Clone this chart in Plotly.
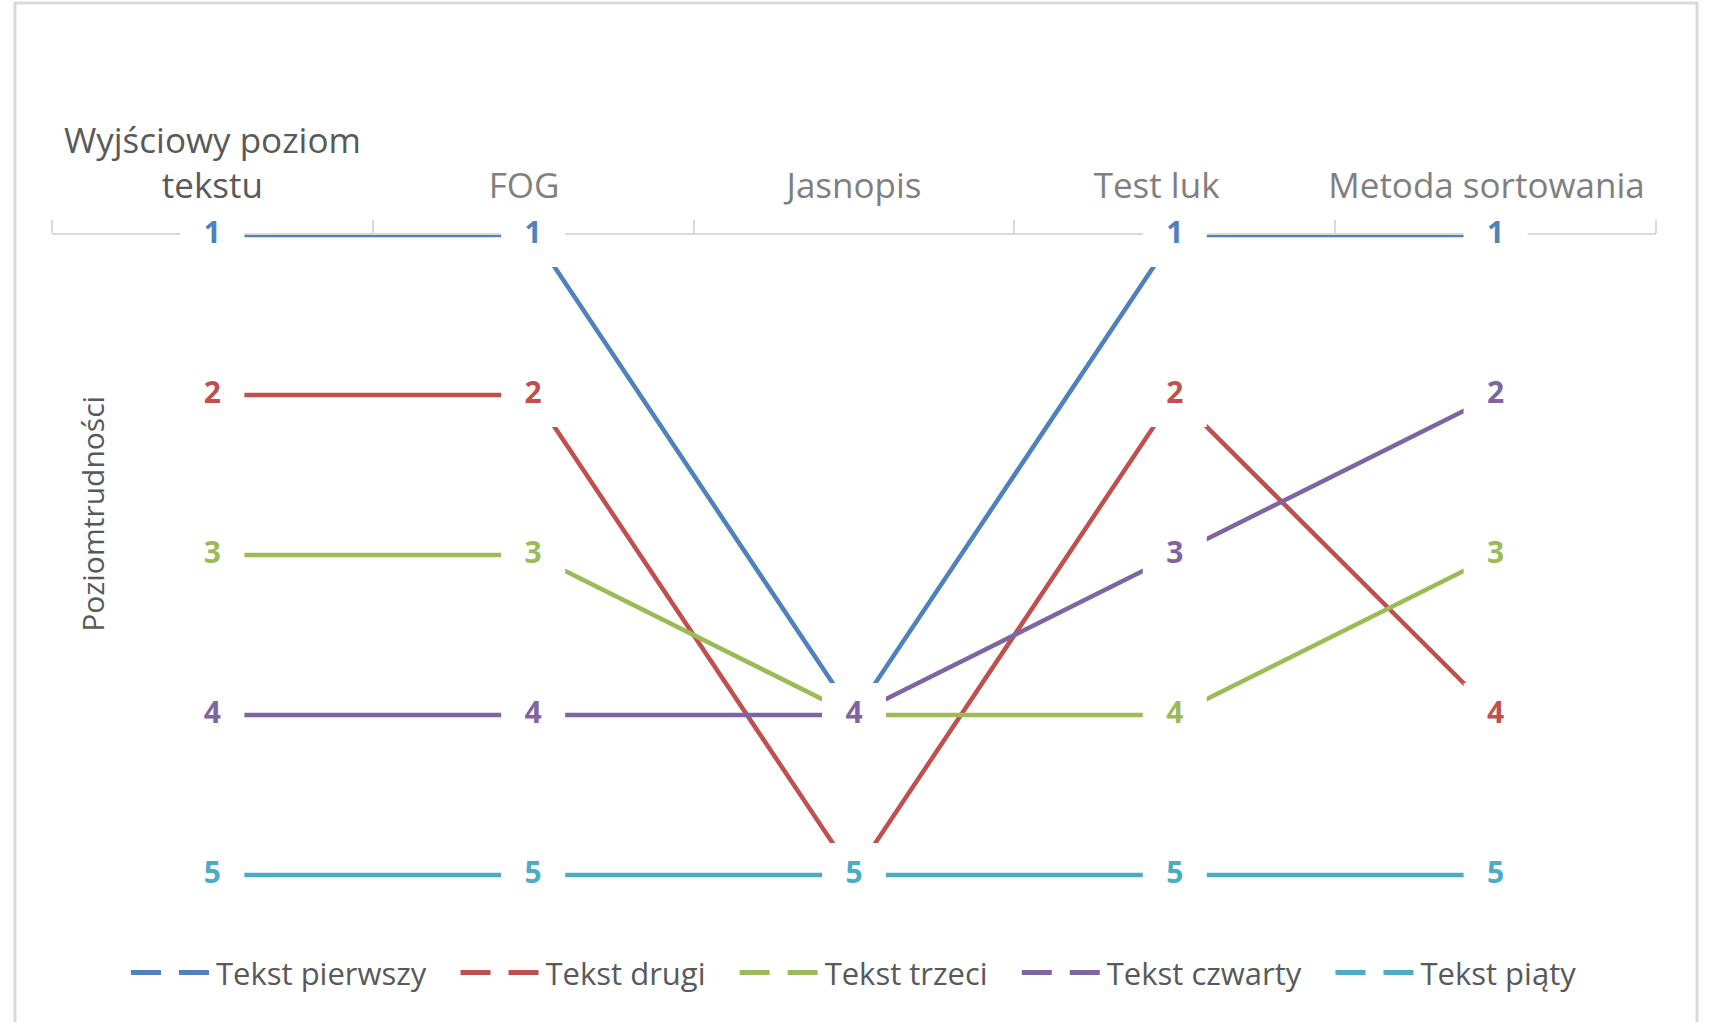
import plotly.graph_objects as go

# ---- data ----
categories = ["Wyjściowy poziom<br>tekstu", "FOG", "Jasnopis", "Test luk", "Metoda sortowania"]
category_colors = ["#595959", "#7F7F7F", "#7F7F7F", "#7F7F7F", "#7F7F7F"]
series_names = ["Tekst pierwszy", "Tekst drugi", "Tekst trzeci", "Tekst czwarty", "Tekst piąty"]
tekst_pierwszy = [1, 1, 4, 1, 1]
tekst_drugi = [2, 2, 5, 2, 4]
tekst_trzeci = [3, 3, 4, 4, 3]
tekst_czwarty = [4, 4, 4, 3, 2]
tekst_piaty = [5, 5, 5, 5, 5]
y_title = "Poziomtrudności"

series_values = [tekst_pierwszy, tekst_drugi, tekst_trzeci, tekst_czwarty, tekst_piaty]
colors = ["#4F81BD", "#C0504D", "#9BBB59", "#8064A2", "#4BACC6"]
# trailing non-breaking spaces nudge some category labels left, as in the original
label_pad = [0, 2, 0, 4, 2]

FONT = "Open Sans"
fig = go.Figure()

# lines
for name, vals, col in zip(series_names, series_values, colors):
    fig.add_trace(go.Scatter(
        x=categories, y=vals, mode="lines", name=name,
        line=dict(color=col, width=4.5), showlegend=False, hoverinfo="skip",
    ))

# data labels with white boxes
for name, vals, col in zip(series_names, series_values, colors):
    fig.add_trace(go.Scatter(
        x=categories, y=vals, mode="markers+text", name=name,
        marker=dict(symbol="square", size=64, color="white", line=dict(width=0)),
        text=[str(v) for v in vals], textposition="middle center",
        textfont=dict(family=FONT, size=30, color=col, weight="bold"),
        showlegend=False, cliponaxis=False,
    ))

# legend entries (non-breaking spaces widen the gap between entries)
pad = "\u00a0" * 3
for i, (name, col) in enumerate(zip(series_names, colors)):
    label = name + (pad if i < len(series_names) - 1 else "")
    fig.add_trace(go.Scatter(
        x=[None], y=[None], mode="lines", name=label,
        line=dict(color=col, width=5, dash="30px,18px"),
    ))

ticktext = [f'<span style="color:{c}">{t}{chr(160) * p}</span>'
            for t, c, p in zip(categories, category_colors, label_pad)]

fig.update_layout(
    width=1709, height=1022,
    margin=dict(l=52, r=53, t=235, b=107, autoexpand=False),
    paper_bgcolor="white", plot_bgcolor="white",
    font=dict(family=FONT, color="#595959"),
    xaxis=dict(
        type="category", side="top", range=[-0.5, 4.5],
        tickmode="array", tickvals=categories, ticktext=ticktext,
        tickson="boundaries", ticks="outside", ticklen=13, tickwidth=2, tickcolor="#D9D9D9",
        showline=True, linecolor="#D9D9D9", linewidth=2,
        showgrid=False, zeroline=False, layer="below traces",
        tickangle=0, automargin=False,
        ticklabelstandoff=21,
        tickfont=dict(family=FONT, size=35, color="#7F7F7F"),
    ),
    yaxis=dict(
        range=[5.25, 1], showticklabels=False, showgrid=False, zeroline=False,
        showline=False, ticks="", automargin=False,
    ),
    legend=dict(
        orientation="h", x=0.5, xanchor="center", y=-0.085, yanchor="middle",
        font=dict(family=FONT, size=31, color="#595959"), itemwidth=80,
        bgcolor="rgba(0,0,0,0)",
    ),
    annotations=[dict(
        text=y_title, textangle=-90, xref="paper", yref="paper",
        x=0.0256, y=0.59, xanchor="center", yanchor="middle", showarrow=False,
        font=dict(family=FONT, size=30, color="#595959"),
    )],
    shapes=[dict(
        type="rect", xref="paper", yref="paper",
        x0=-0.0231, x1=1.0256, y0=-0.2, y1=1.341,
        line=dict(color="#D9D9D9", width=3), fillcolor="rgba(0,0,0,0)", layer="below",
    )],
)

fig.write_html(
    "out.html",
    config={"displayModeBar": False},
    post_script="document.body.style.margin='0';document.body.style.overflow='hidden';",
)
